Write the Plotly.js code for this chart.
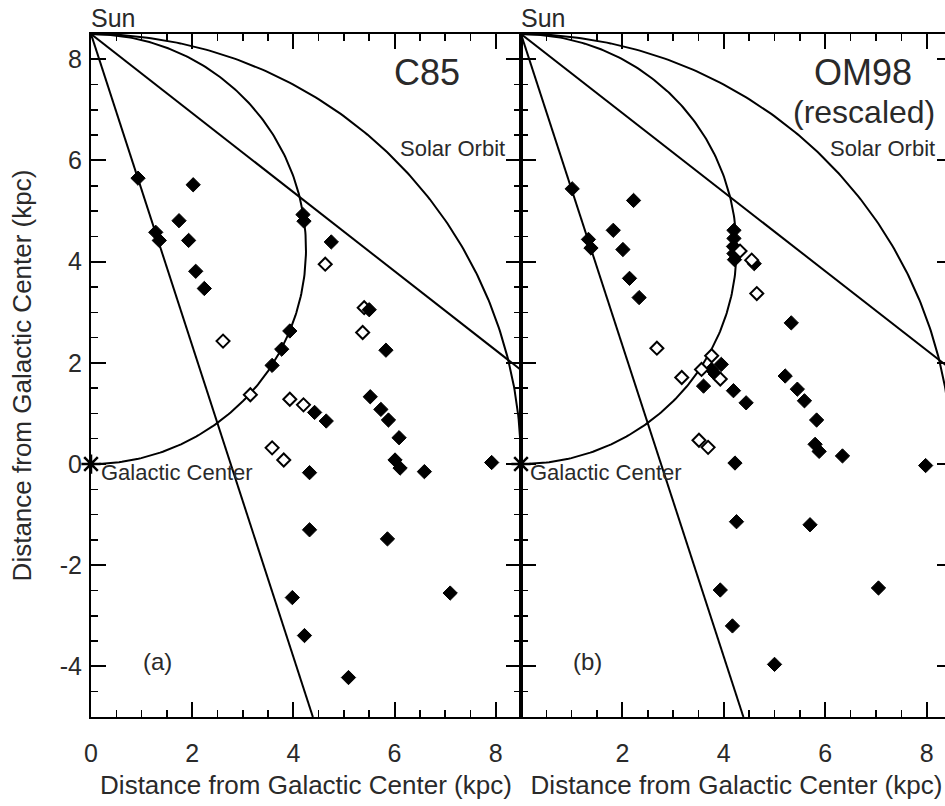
<!DOCTYPE html>
<html><head><meta charset="utf-8">
<script src="https://cdn.plot.ly/plotly-3.0.1.min.js"></script>
<style>
html,body{margin:0;padding:0;overflow:hidden;background:#fff}
#wrap{width:945px;height:806px;overflow:hidden;position:relative;background:#fff}
#ticksA{position:absolute;left:0;top:0;width:521px;height:806px}
#ticksB{position:absolute;left:521px;top:0;width:439px;height:806px}
#panelA{position:absolute;left:0;top:0;width:531px;height:806px}
#panelB{position:absolute;left:511px;top:0;width:449px;height:806px}
</style></head>
<body><div id="wrap"><div id="ticksA"></div><div id="ticksB"></div><div id="panelA"></div><div id="panelB"></div></div>
<script>
// Geometry parameters
const R0 = 8.5;                       // Sun - Galactic Center distance (kpc)
const sightlineLongitudes = [18, 52]; // degrees
const xRange = [0, 8.5];
const yRange = [-5, 8.5];

// Panel (a): C85
const c85FilledX = [0.93,1.28,1.35,1.74,2.02,1.93,4.19,4.21,4.75,2.07,2.24,3.93,3.77,3.58,4.42,4.65,4.32,5.50,5.83,5.52,5.73,5.88,6.09,6.01,6.11,6.59,7.92,4.32,3.98,4.22,5.86,7.10,5.09];
const c85FilledY = [5.65,4.58,4.42,4.81,5.52,4.42,4.93,4.80,4.39,3.81,3.47,2.63,2.27,1.95,1.02,0.85,-0.17,3.05,2.25,1.33,1.08,0.87,0.52,0.08,-0.08,-0.15,0.03,-1.30,-2.64,-3.39,-1.48,-2.55,-4.22];
const c85OpenX = [2.61,3.15,3.93,4.20,3.58,3.81,4.63,5.40,5.37];
const c85OpenY = [2.43,1.37,1.28,1.17,0.32,0.08,3.95,3.09,2.60];

// Panel (b): OM98 (rescaled)
const om98FilledX = [1.01,1.33,1.38,1.82,2.22,2.01,2.14,2.33,4.20,4.20,4.19,4.20,4.21,4.60,5.33,3.95,3.76,3.83,3.60,4.19,4.44,5.21,5.45,5.59,5.83,5.80,5.88,6.34,7.98,4.22,4.25,5.70,3.93,7.05,4.17,5.00];
const om98FilledY = [5.44,4.44,4.27,4.62,5.21,4.24,3.67,3.29,4.62,4.46,4.30,4.16,4.04,3.96,2.79,1.97,1.87,1.78,1.54,1.45,1.21,1.74,1.48,1.25,0.87,0.39,0.25,0.16,-0.03,0.02,-1.14,-1.20,-2.49,-2.45,-3.20,-3.96];
const om98OpenX = [4.32,4.55,4.65,2.68,3.76,3.56,3.93,3.17,3.51,3.69];
const om98OpenY = [4.21,4.03,3.37,2.29,2.14,1.87,1.68,1.71,0.47,0.33];

// Tick settings (labels use a plain hyphen for negatives; right panel hides its "0")
const majorStep = 2;
const minorStep = 0.5;
const yLabelAlias = {'\u22122': '-2', '\u22124': '-4'};
const xBLabelAlias = {'0': ''};

const FONT = 'Liberation Sans, Arial, Helvetica, sans-serif';
const TXT = '#2a2a2a';
const xTitle = 'Distance from Galactic Center (kpc)';
const titleFont = {family: FONT, size: 26, color: TXT};
const CLEAR = 'rgba(0,0,0,0)';

function arc(cx, cy, r, a0, a1, n) {
  const xs = [], ys = [];
  for (let i = 0; i <= n; i++) {
    const a = (a0 + (a1 - a0) * i / n) * Math.PI / 180;
    xs.push(cx + r * Math.cos(a));
    ys.push(cy + r * Math.sin(a));
  }
  return {x: xs, y: ys};
}
function sightline(l) {
  const rad = l * Math.PI / 180;
  const dx = Math.sin(rad), dy = -Math.cos(rad);
  const tY = (yRange[0] - R0) / dy;
  const tX = (xRange[1] - 0) / dx;
  const t = Math.min(tY, tX);
  return {x: [0, t * dx], y: [R0, R0 + t * dy]};
}

const solarOrbit = arc(0, 0, R0, 90, 0, 180);
const tangentCircle = arc(0, R0 / 2, R0 / 2, 90, -90, 240);

function panelTraces(fx, fy, ox, oy, openOnTop) {
  const lineStyle = {color: '#000', width: 2};
  const tr = [];
  tr.push({x: solarOrbit.x, y: solarOrbit.y, mode: 'lines', line: lineStyle, hoverinfo: 'skip'});
  tr.push({x: tangentCircle.x, y: tangentCircle.y, mode: 'lines', line: lineStyle, hoverinfo: 'skip'});
  sightlineLongitudes.forEach(l => {
    const s = sightline(l);
    tr.push({x: s.x, y: s.y, mode: 'lines', line: lineStyle, hoverinfo: 'skip'});
  });
  const filled = {x: fx, y: fy, mode: 'markers',
    marker: {symbol: 'diamond', size: 11, color: '#000', line: {color: '#000', width: 1}}};
  const open = {x: ox, y: oy, mode: 'markers',
    marker: {symbol: 'diamond', size: 10, color: '#fff', line: {color: '#000', width: 2}}};
  if (openOnTop) { tr.push(filled); tr.push(open); } else { tr.push(open); tr.push(filled); }
  tr.push({x: [0], y: [0], mode: 'markers', cliponaxis: false,
    marker: {symbol: 'asterisk-open', size: 16, color: '#000', line: {color: '#000', width: 2.5}}});
  return tr;
}

function axisBase() {
  return {
    showline: true, linewidth: 2, linecolor: '#000', mirror: 'allticks',
    tickmode: 'linear', tick0: 0, dtick: majorStep,
    ticks: 'inside', ticklen: 15, tickwidth: 2, tickcolor: '#000',
    showgrid: false, zeroline: false,
    minor: {tickmode: 'linear', tick0: 0, dtick: minorStep, ticks: 'inside', ticklen: 7, tickwidth: 1.5, tickcolor: '#000', showgrid: false},
    tickfont: {family: FONT, size: 25, color: TXT}
  };
}

function ann(x, y, xref, yref, xanchor, yanchor, text, size, extra) {
  return Object.assign({x: x, y: y, xref: xref, yref: yref, xanchor: xanchor, yanchor: yanchor,
    text: text, showarrow: false, font: {family: FONT, size: size, color: TXT}}, extra || {});
}

// ---- Tick frames (drawn underneath; same pixel geometry as the panels) ----
// y is offset so the frame's range starts at zero; the ticks land on the same kpc values.
const yShift = -yRange[0];
const frameYRange = [yRange[0] + yShift, yRange[1] + yShift];
const frameYTick0 = ((yShift % majorStep) + majorStep) % majorStep;
function frameLayout(w, l, r) {
  const xa = axisBase(); xa.range = xRange; xa.showticklabels = false;
  const ya = axisBase(); ya.range = frameYRange; ya.tick0 = frameYTick0; ya.showticklabels = false;
  return {width: w, height: 806, margin: {l: l, r: r, t: 34, b: 89}, showlegend: false, xaxis: xa, yaxis: ya};
}
const frameTrace = [{x: [xRange[0] + 1], y: [frameYRange[0] + 1], mode: 'markers', marker: {opacity: 0}, hoverinfo: 'skip'}];

// ---- Left panel (a) ----
const layoutA = {
  width: 531, height: 806,
  margin: {l: 91, r: 10, t: 34, b: 89},
  paper_bgcolor: CLEAR, plot_bgcolor: CLEAR, showlegend: false,
  xaxis: Object.assign(axisBase(), {range: xRange, ticklabelstandoff: 13,
    title: {text: xTitle, font: titleFont, standoff: 10}}),
  yaxis: Object.assign(axisBase(), {range: yRange, labelalias: yLabelAlias, ticklabelstandoff: 2,
    title: {text: xTitle, font: titleFont, standoff: 21}}),
  annotations: [
    ann(0, 1, 'x domain', 'y domain', 'left', 'bottom', 'Sun', 25, {xshift: -2}),
    ann(0.863, 0.944, 'x domain', 'y domain', 'right', 'middle', 'C85', 36),
    ann(0.967, 0.833, 'x domain', 'y domain', 'right', 'middle', 'Solar Orbit', 22),
    ann(0.15, -0.17, 'x', 'y', 'left', 'middle', 'Galactic Center', 22),
    ann(1.32, -3.9, 'x', 'y', 'center', 'middle', '(a)', 24)
  ]
};

// ---- Right panel (b) ----
const layoutB = {
  width: 449, height: 806,
  margin: {l: 10, r: 8, t: 34, b: 89},
  paper_bgcolor: CLEAR, plot_bgcolor: CLEAR, showlegend: false,
  xaxis: Object.assign(axisBase(), {range: xRange, labelalias: xBLabelAlias, ticklabelstandoff: 13,
    title: {text: xTitle, font: titleFont, standoff: 10}}),
  yaxis: Object.assign(axisBase(), {range: yRange, showticklabels: false}),
  annotations: [
    ann(0, 1, 'x domain', 'y domain', 'left', 'bottom', 'Sun', 25, {xshift: -2}),
    ann(0.912, 0.944, 'x domain', 'y domain', 'right', 'middle', 'OM98', 36),
    ann(0.965, 0.886, 'x domain', 'y domain', 'right', 'middle', '(rescaled)', 32),
    ann(0.965, 0.833, 'x domain', 'y domain', 'right', 'middle', 'Solar Orbit', 22),
    ann(0.13, -0.17, 'x', 'y', 'left', 'middle', 'Galactic Center', 22),
    ann(1.32, -3.9, 'x', 'y', 'center', 'middle', '(b)', 24)
  ]
};

const cfg = {staticPlot: true, displayModeBar: false};
Plotly.newPlot('ticksA', frameTrace, frameLayout(521, 91, 0), cfg);
Plotly.newPlot('ticksB', frameTrace, frameLayout(439, 0, 8), cfg);
Plotly.newPlot('panelA', panelTraces(c85FilledX, c85FilledY, c85OpenX, c85OpenY, false), layoutA, cfg);
Plotly.newPlot('panelB', panelTraces(om98FilledX, om98FilledY, om98OpenX, om98OpenY, true), layoutB, cfg);
</script>
</body></html>
